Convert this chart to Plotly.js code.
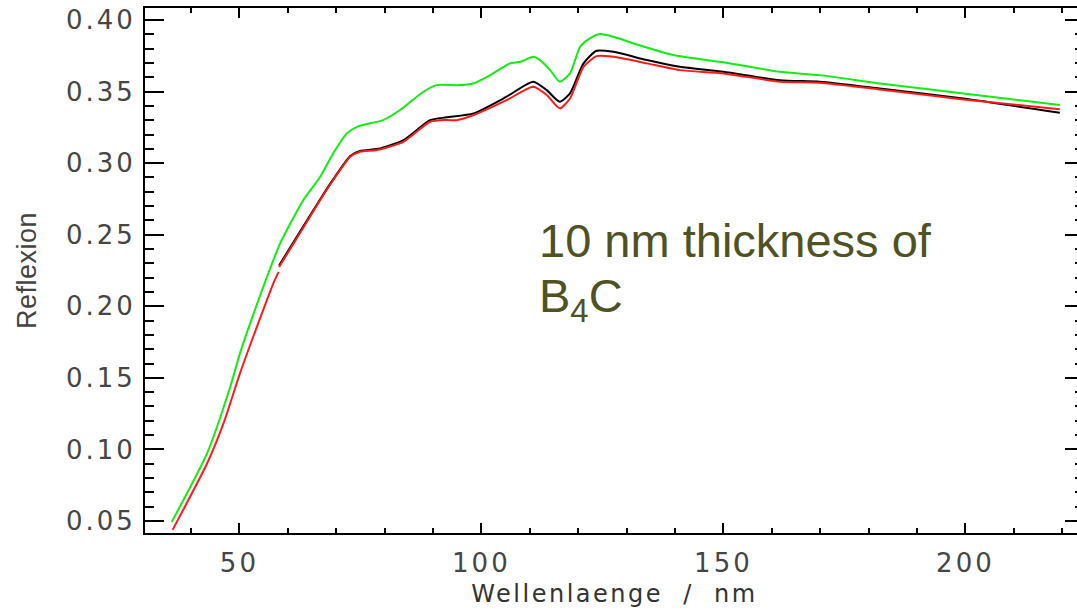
<!DOCTYPE html>
<html>
<head>
<meta charset="utf-8">
<script src="https://cdn.plot.ly/plotly-3.0.1.min.js"></script>
<style>
  html, body { margin: 0; padding: 0; overflow: hidden; background: #fff; }
  #chart { width: 1100px; height: 615px; }
  .xtick text, .ytick text { letter-spacing: 3px; }
  .xtitle { letter-spacing: 2.5px; }
  .ytitle { letter-spacing: 0.5px; }
</style>
</head>
<body>
<div id="chart"></div>
<script>
// Wavelength (nm) and reflectance values
const greenX = [36.0, 43.3, 48.1, 50.1, 52.2, 55.7, 58.4, 63.2, 66.7, 69.4, 72.2, 74.3, 76.3, 79.7, 83.2, 88.0, 90.8, 94.9, 98.3, 101.8, 105.9, 108.0, 110.7, 112.1, 114.2, 116.2, 118.3, 120.4, 122.4, 124.5, 127.3, 131.4, 139.7, 151.4, 161.7, 169.9, 182.3, 199.6, 219.5];
const greenY = [0.0492, 0.0970, 0.1436, 0.1669, 0.1879, 0.2205, 0.2438, 0.2741, 0.2905, 0.3069, 0.3208, 0.3254, 0.3273, 0.3301, 0.3371, 0.3499, 0.3545, 0.3545, 0.3557, 0.3615, 0.3697, 0.3708, 0.3743, 0.3720, 0.3650, 0.3569, 0.3627, 0.3813, 0.3872, 0.3902, 0.3883, 0.3837, 0.3755, 0.3697, 0.3638, 0.3615, 0.3557, 0.3487, 0.3406];

const redX = [36.2, 43.3, 46.7, 50.1, 53.6, 57.0, 58.1, 58.15, 58.2, 62.5, 66.7, 69.4, 72.9, 74.9, 78.4, 83.9, 89.4, 92.8, 94.9, 98.4, 105.2, 110.7, 113.5, 116.2, 118.3, 121.1, 123.8, 127.3, 134.2, 141.0, 150.0, 161.7, 169.9, 182.3, 199.6, 219.5];
const redY = [0.0438, 0.0900, 0.1180, 0.1529, 0.1855, 0.2159, 0.2240, null, 0.2275, 0.2510, 0.2742, 0.2882, 0.3045, 0.3080, 0.3092, 0.3149, 0.3289, 0.3301, 0.3300, 0.3336, 0.3440, 0.3534, 0.3476, 0.3383, 0.3452, 0.3673, 0.3748, 0.3743, 0.3697, 0.3650, 0.3627, 0.3569, 0.3562, 0.3515, 0.3445, 0.3376];

const blackX = [58.2, 62.5, 66.7, 69.4, 72.9, 74.9, 79.1, 83.9, 89.4, 92.8, 98.4, 105.2, 110.7, 113.5, 116.2, 118.3, 121.1, 123.8, 127.3, 134.2, 141.0, 150.0, 161.7, 169.9, 182.3, 199.6, 219.5];
const blackY = [0.2285, 0.2520, 0.2748, 0.2888, 0.3050, 0.3085, 0.3103, 0.3161, 0.3300, 0.3320, 0.3348, 0.3464, 0.3569, 0.3510, 0.3429, 0.3487, 0.3697, 0.3785, 0.3778, 0.3720, 0.3673, 0.3638, 0.3580, 0.3569, 0.3522, 0.3452, 0.3352];

const xTitle = "Wellenlaenge\u00a0\u00a0/\u00a0\u00a0nm";
const yTitle = "Reflexion";
const note1 = "10 nm thickness of";
const note2 = "B<sub>4</sub>C";

const lineStyle = (c) => ({ color: c, width: 2, shape: 'spline', smoothing: 0.6 });

const traces = [
  { x: blackX, y: blackY, mode: 'lines', line: lineStyle('#000000'), connectgaps: false, hoverinfo: 'skip' },
  { x: redX, y: redY, mode: 'lines', line: lineStyle('#ff1a1a'), connectgaps: false, hoverinfo: 'skip' },
  { x: greenX, y: greenY, mode: 'lines', line: lineStyle('#11ee11'), connectgaps: false, hoverinfo: 'skip' }
];

const tickFont = { family: 'DejaVu Sans, sans-serif', size: 26, color: '#454545' };

const layout = {
  width: 1100,
  height: 615,
  margin: { l: 145, r: 16, t: 8, b: 82 },
  paper_bgcolor: '#ffffff',
  plot_bgcolor: '#ffffff',
  showlegend: false,
  xaxis: {
    range: [30.5, 224.5],
    tick0: 0, dtick: 50,
    ticks: 'inside', ticklen: 10, tickwidth: 2, tickcolor: '#000',
    showline: true, linewidth: 2, linecolor: '#000', mirror: 'allticks',
    showgrid: false, zeroline: false,
    tickfont: tickFont,
    ticklabelstandoff: 6,
    minor: { dtick: 10, tick0: 0, ticks: 'inside', ticklen: 5, tickwidth: 2, tickcolor: '#000', showgrid: false },
    title: { text: xTitle, font: { family: 'DejaVu Sans, sans-serif', size: 24, color: '#333333' }, standoff: 8 }
  },
  yaxis: {
    range: [0.0416, 0.4084],
    tick0: 0, dtick: 0.05, tickformat: '.2f',
    ticks: 'inside', ticklen: 19, tickwidth: 2, tickcolor: '#000',
    showline: true, linewidth: 2, linecolor: '#000', mirror: 'allticks',
    showgrid: false, zeroline: false,
    tickfont: tickFont,
    ticklabelstandoff: 2,
    minor: { dtick: 0.01, tick0: 0, ticks: 'inside', ticklen: 9, tickwidth: 2, tickcolor: '#000', showgrid: false },
    title: { text: yTitle, font: { family: 'Liberation Sans, Arial, sans-serif', size: 27, color: '#444444' }, standoff: 21 }
  },
  annotations: [
    { text: note1, xref: 'paper', yref: 'paper', x: 0.4175, y: 0.558, xanchor: 'left', yanchor: 'middle',
      showarrow: false, font: { family: 'Liberation Sans, Arial, sans-serif', size: 47, color: '#4f5223' } },
    { text: note2, xref: 'paper', yref: 'paper', x: 0.4175, y: 0.446, xanchor: 'left', yanchor: 'middle',
      showarrow: false, font: { family: 'Liberation Sans, Arial, sans-serif', size: 47, color: '#4f5223' } }
  ]
};

Plotly.newPlot('chart', traces, layout, { staticPlot: true, displayModeBar: false });
</script>
</body>
</html>
